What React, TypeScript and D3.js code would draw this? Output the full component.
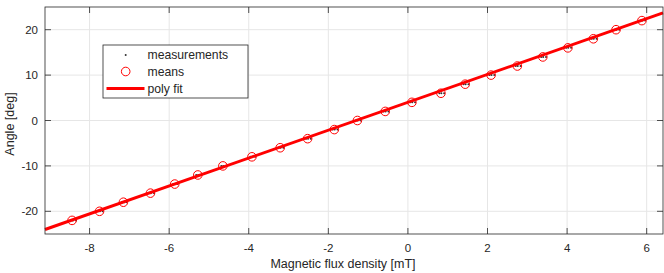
import React from 'react';
import * as d3 from 'd3';

// Mean values (angle setpoints vs measured flux density)
const meanAngles: number[] = [-22, -20, -18, -16, -14, -12, -10, -8, -6, -4, -2, 0, 2, 4, 6, 8, 10, 12, 14, 16, 18, 20, 22];
const meanFlux: number[] = [-8.44, -7.75, -7.15, -6.47, -5.86, -5.28, -4.65, -3.92, -3.21, -2.52, -1.85, -1.27, -0.57, 0.10, 0.83, 1.44, 2.09, 2.75, 3.39, 4.02, 4.66, 5.23, 5.88];

// Individual measurements (three per setpoint)
const measAngles: number[] = [
    -22, -22, -22, -20, -20, -20, -18, -18, -18, -16, -16, -16, -14, -14, -14, -12, -12, -12,
    -10, -10, -10, -8, -8, -8, -6, -6, -6, -4, -4, -4, -2, -2, -2, 0, 0, 0,
    2, 2, 2, 4, 4, 4, 6, 6, 6, 8, 8, 8, 10, 10, 10, 12, 12, 12,
    14, 14, 14, 16, 16, 16, 18, 18, 18, 20, 20, 20, 22, 22, 22
];
const measFlux: number[] = [
    -8.48, -8.42, -8.34, -7.79, -7.74, -7.67, -7.19, -7.13, -7.07, -6.51, -6.46, -6.38, -5.90, -5.85, -5.79, -5.32, -5.27, -5.20,
    -4.69, -4.64, -4.57, -3.96, -3.91, -3.84, -3.25, -3.20, -3.13, -2.56, -2.51, -2.44, -1.89, -1.84, -1.77, -1.31, -1.26, -1.19,
    -0.61, -0.56, -0.49, 0.06, 0.11, 0.18, 0.79, 0.84, 0.91, 1.40, 1.45, 1.52, 2.05, 2.10, 2.17, 2.71, 2.76, 2.83,
    3.35, 3.40, 3.47, 3.98, 4.03, 4.10, 4.62, 4.67, 4.74, 5.19, 5.24, 5.31, 5.84, 5.89, 5.96
];

// Poly fit line end points
const fitFlux: number[] = [-9.12, 6.41];
const fitAngles: number[] = [-24.0, 23.7];

const xTicks: number[] = [-8, -6, -4, -2, 0, 2, 4, 6];
const yTicks: number[] = [-20, -10, 0, 10, 20];

const legendLabels: string[] = ['measurements', 'means', 'poly fit'];

const App: React.FC = () => {
    const width = 664;
    const height = 273;
    const margin = { top: 7, right: 1, bottom: 39, left: 45 };
    const x0 = margin.left;
    const x1 = width - margin.right;
    const y0 = margin.top;
    const y1 = height - margin.bottom;

    const xScale = d3.scaleLinear().domain([-9.12, 6.41]).range([x0, x1]);
    const yScale = d3.scaleLinear().domain([-25, 25]).range([y1, y0]);

    const fitLine = d3.line<number>()
        .x(d => xScale(d))
        .y((d, i) => yScale(fitAngles[i]));

    const axisColor = '#262626';
    const gridColor = '#e6e6e6';
    const font = '"Liberation Sans", Arial, Helvetica, sans-serif';
    const tickLen = 6;

    const legend = { x: 103, y: 45, w: 145, h: 53 };
    const rowY = [55, 71.5, 88.5];

    return (
        <svg width={width} height={height} style={{ position: 'absolute', left: 0, top: 0, background: '#fff' }}
            fontFamily={font}>
            {/* grid */}
            {xTicks.map(t => (
                <line key={`gx${t}`} x1={xScale(t)} x2={xScale(t)} y1={y0} y2={y1} stroke={gridColor} strokeWidth={1} />
            ))}
            {yTicks.map(t => (
                <line key={`gy${t}`} x1={x0} x2={x1} y1={yScale(t)} y2={yScale(t)} stroke={gridColor} strokeWidth={1} />
            ))}

            {/* measurements */}
            {measFlux.map((f, i) => (
                <circle key={`m${i}`} cx={xScale(f)} cy={yScale(measAngles[i])} r={1} fill="#333" />
            ))}

            {/* fit */}
            <path d={fitLine(fitFlux) || ''} fill="none" stroke="#ff0000" strokeWidth={3} />

            {/* means */}
            {meanFlux.map((f, i) => (
                <circle key={`c${i}`} cx={xScale(f)} cy={yScale(meanAngles[i])} r={4.3} fill="none" stroke="#ff0000" strokeWidth={1} />
            ))}

            {/* axes box */}
            <rect x={x0} y={y0} width={x1 - x0} height={y1 - y0} fill="none" stroke={axisColor} strokeWidth={0.8} />
            {xTicks.map(t => (
                <g key={`tx${t}`}>
                    <line x1={xScale(t)} x2={xScale(t)} y1={y1} y2={y1 - tickLen} stroke={axisColor} strokeWidth={0.8} />
                    <line x1={xScale(t)} x2={xScale(t)} y1={y0} y2={y0 + tickLen} stroke={axisColor} strokeWidth={0.8} />
                    <text x={xScale(t)} y={y1 + 18} textAnchor="middle" fontSize={11.5} fill={axisColor}>{t}</text>
                </g>
            ))}
            {yTicks.map(t => (
                <g key={`ty${t}`}>
                    <line x1={x0} x2={x0 + tickLen} y1={yScale(t)} y2={yScale(t)} stroke={axisColor} strokeWidth={0.8} />
                    <line x1={x1} x2={x1 - tickLen} y1={yScale(t)} y2={yScale(t)} stroke={axisColor} strokeWidth={0.8} />
                    <text x={x0 - 7} y={yScale(t)} dy="0.35em" textAnchor="end" fontSize={11.5} fill={axisColor}>{t}</text>
                </g>
            ))}

            {/* axis labels */}
            <text x={343} y={268} textAnchor="middle" fontSize={12.5} fill={axisColor}>Magnetic flux density [mT]</text>
            <text transform={`translate(14,${124}) rotate(-90)`} textAnchor="middle" fontSize={12.5} fill={axisColor}>Angle [deg]</text>

            {/* legend */}
            <rect x={legend.x} y={legend.y} width={legend.w} height={legend.h} fill="#fff" stroke={axisColor} strokeWidth={0.8} />
            <circle cx={125.7} cy={rowY[0]} r={1} fill="#333" />
            <circle cx={125.7} cy={rowY[1]} r={4.3} fill="none" stroke="#ff0000" strokeWidth={1} />
            <line x1={106.5} x2={144.5} y1={rowY[2]} y2={rowY[2]} stroke="#ff0000" strokeWidth={3} />
            {legendLabels.map((l, i) => (
                <text key={l} x={147.5} y={rowY[i]} dy="0.35em" fontSize={12.2} fill={axisColor}>{l}</text>
            ))}
        </svg>
    );
};

export default App;
